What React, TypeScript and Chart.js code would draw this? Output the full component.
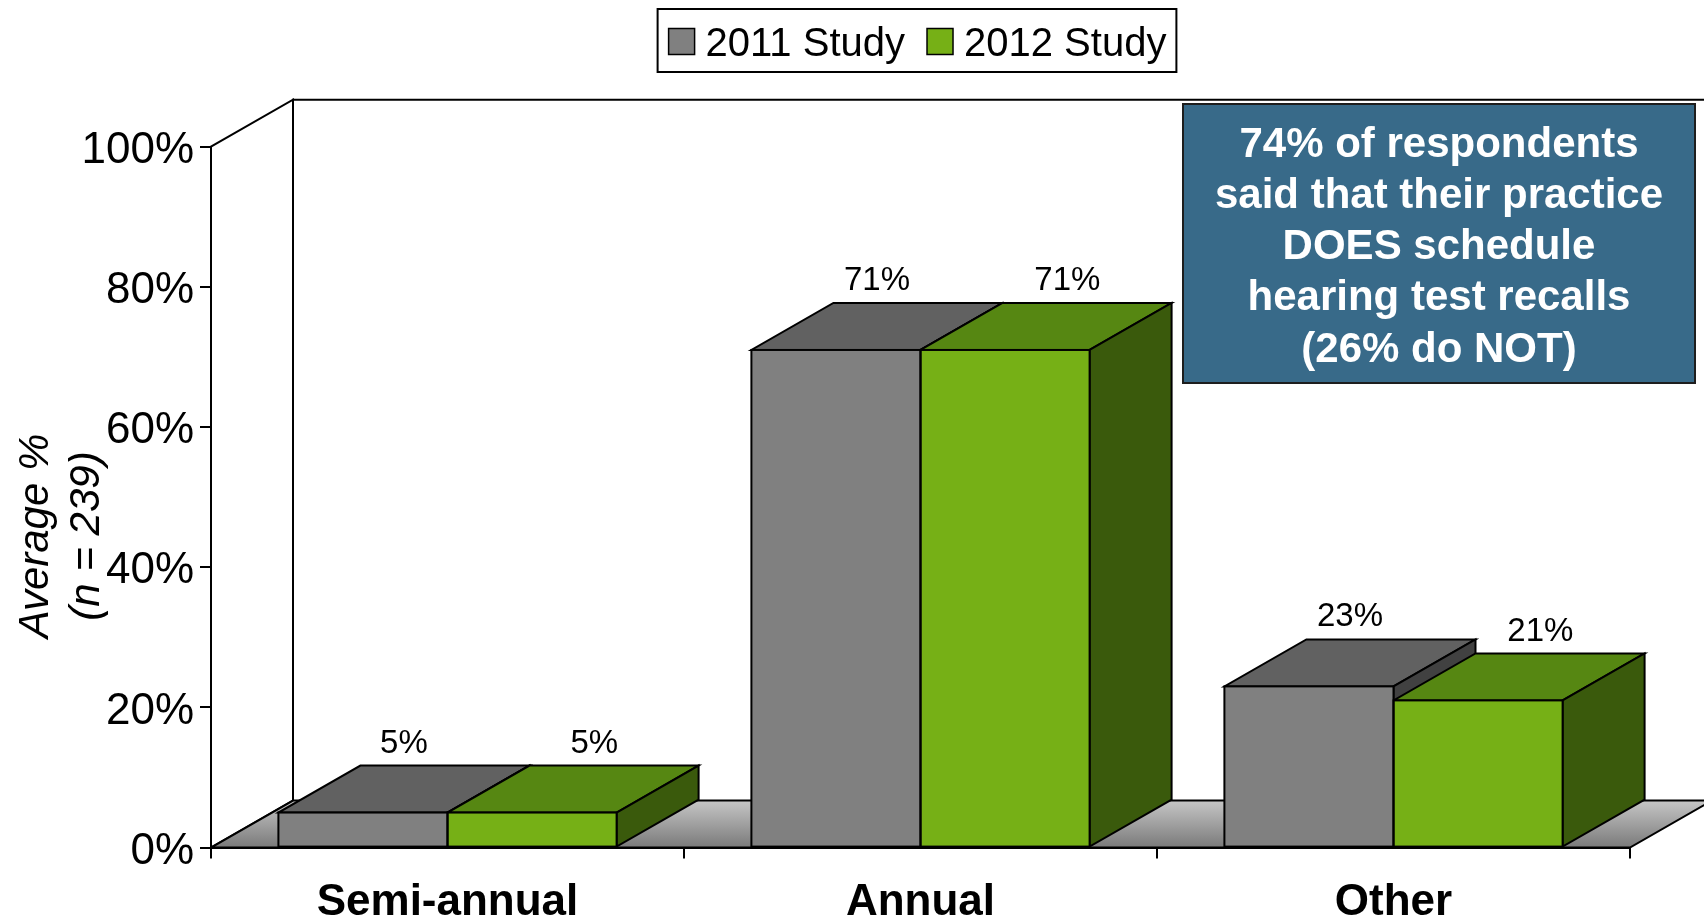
import React, { useEffect, useRef } from 'react';
import { Chart, registerables } from 'chart.js';

Chart.register(...registerables);

// ---- data ----
const categories = ['Semi-annual', 'Annual', 'Other'];
const seriesLabels = ['2011 Study', '2012 Study'];
const values2011 = [5, 71, 23];
const values2012 = [5, 71, 21];
const yTickValues = [0, 20, 40, 60, 80, 100];
const yTitleLines = ['Average %', '(n = 239)'];
const noteLines = [
  '74% of respondents',
  'said that their practice',
  'DOES schedule',
  'hearing test recalls',
  '(26% do NOT)',
];

// ---- styling ----
const FONT = '"Liberation Sans", Arial, Helvetica, sans-serif';
const W = 1704;
const H = 922;
const DX = 82;
const DY = 47;
const frontColors = ['#808080', '#76B016'];
const topColors = ['#616161', '#568712'];
const sideColors = ['#414141', '#3A5A0C'];
const labelShift = [0.5, 0.76];

function poly(ctx: CanvasRenderingContext2D, pts: number[][]) {
  ctx.beginPath();
  ctx.moveTo(pts[0][0], pts[0][1]);
  for (let i = 1; i < pts.length; i++) ctx.lineTo(pts[i][0], pts[i][1]);
  ctx.closePath();
  ctx.fill();
  ctx.stroke();
}

const threeDPlugin = {
  id: 'threeD',
  beforeDatasetsDraw(chart: any) {
    const { ctx, chartArea: ca } = chart;
    const yS = chart.scales.y;
    const y0 = yS.getPixelForValue(0);
    const y100 = yS.getPixelForValue(100);
    const L = ca.left;
    const R = ca.right;
    ctx.save();
    ctx.lineWidth = 2;
    ctx.strokeStyle = '#000';
    ctx.lineJoin = 'miter';
    // back wall
    ctx.fillStyle = '#fff';
    ctx.fillRect(L + DX, y100 - DY, R - L, y0 - y100);
    ctx.beginPath();
    ctx.moveTo(L + DX, y0 - DY);
    ctx.lineTo(L + DX, y100 - DY);
    ctx.lineTo(R + DX + 40, y100 - DY);
    ctx.stroke();
    // left side wall
    poly(ctx, [[L, y0], [L, y100], [L + DX, y100 - DY], [L + DX, y0 - DY]]);
    // floor
    const g = ctx.createLinearGradient(0, y0 - DY, 0, y0);
    g.addColorStop(0, '#c6c6c6');
    g.addColorStop(1, '#7a7a7a');
    ctx.fillStyle = g;
    poly(ctx, [[L, y0], [R, y0], [R + DX, y0 - DY], [L + DX, y0 - DY]]);
    // top and side faces of bars
    const n = chart.data.labels.length;
    for (let i = 0; i < n; i++) {
      for (let d = 0; d < chart.data.datasets.length; d++) {
        const el = chart.getDatasetMeta(d).data[i];
        const { x, y, base, width } = el.getProps(['x', 'y', 'base', 'width'], true);
        const l = x - width / 2;
        const r = x + width / 2;
        ctx.fillStyle = topColors[d];
        poly(ctx, [[l, y], [r, y], [r + DX, y - DY], [l + DX, y - DY]]);
        ctx.fillStyle = sideColors[d];
        poly(ctx, [[r, y], [r + DX, y - DY], [r + DX, base - DY], [r, base]]);
      }
    }
    ctx.restore();
  },
  afterDatasetsDraw(chart: any) {
    const { ctx } = chart;
    ctx.save();
    ctx.lineWidth = 2;
    ctx.strokeStyle = '#000';
    const n = chart.data.labels.length;
    for (let i = 0; i < n; i++) {
      for (let d = 0; d < chart.data.datasets.length; d++) {
        const el = chart.getDatasetMeta(d).data[i];
        const { x, y, base, width } = el.getProps(['x', 'y', 'base', 'width'], true);
        ctx.strokeRect(x - width / 2, y, width, base - y);
      }
    }
    // data labels
    ctx.fillStyle = '#000';
    ctx.font = `33px ${FONT}`;
    ctx.textAlign = 'center';
    ctx.textBaseline = 'middle';
    for (let i = 0; i < n; i++) {
      for (let d = 0; d < chart.data.datasets.length; d++) {
        const el = chart.getDatasetMeta(d).data[i];
        const { x, y } = el.getProps(['x', 'y'], true);
        const v = chart.data.datasets[d].data[i];
        ctx.fillText(`${v}%`, x + DX * labelShift[d], y - DY - 22);
      }
    }
    ctx.restore();
  },
  afterDraw(chart: any) {
    const { ctx } = chart;
    ctx.save();
    // y-axis title
    ctx.fillStyle = '#000';
    ctx.font = `italic 42px ${FONT}`;
    ctx.textAlign = 'center';
    ctx.textBaseline = 'middle';
    ctx.translate(36, 536);
    ctx.rotate(-Math.PI / 2);
    yTitleLines.forEach((t, k) => ctx.fillText(t, 0, k * 51));
    ctx.restore();

    // legend
    ctx.save();
    ctx.font = `40px ${FONT}`;
    ctx.textBaseline = 'middle';
    ctx.textAlign = 'left';
    const ds = chart.data.datasets;
    const sw = 26;
    const padL = 11;
    const gap = 11;
    const between = 22;
    const widths = ds.map((d: any) => ctx.measureText(d.label).width);
    let total = padL;
    widths.forEach((w: number, k: number) => {
      total += sw + gap + w + (k < widths.length - 1 ? between : 0);
    });
    total += 10;
    const cx = 917;
    const lx = cx - total / 2;
    const ly = 9;
    const lh = 63;
    ctx.fillStyle = '#fff';
    ctx.fillRect(lx, ly, total, lh);
    ctx.lineWidth = 2;
    ctx.strokeStyle = '#000';
    ctx.strokeRect(lx, ly, total, lh);
    let px = lx + padL;
    const my = ly + lh / 2 + 1;
    ds.forEach((d: any, k: number) => {
      ctx.fillStyle = d.backgroundColor;
      ctx.fillRect(px, my - sw / 2, sw, sw);
      ctx.lineWidth = 1.5;
      ctx.strokeRect(px, my - sw / 2, sw, sw);
      px += sw + gap;
      ctx.fillStyle = '#000';
      ctx.fillText(d.label, px, my + 3);
      px += widths[k] + between;
    });
    ctx.restore();

    // note box
    ctx.save();
    const bx = 1183;
    const by = 104;
    const bw = 512;
    const bh = 279;
    ctx.fillStyle = '#386A89';
    ctx.fillRect(bx, by, bw, bh);
    ctx.lineWidth = 2;
    ctx.strokeStyle = '#1e1e1e';
    ctx.strokeRect(bx, by, bw, bh);
    ctx.fillStyle = '#fff';
    ctx.font = `bold 42px ${FONT}`;
    ctx.textAlign = 'center';
    ctx.textBaseline = 'middle';
    noteLines.forEach((t, k) => ctx.fillText(t, bx + bw / 2, 145 + k * 51.3));
    ctx.restore();
  },
};

export default function App() {
  const ref = useRef<HTMLCanvasElement | null>(null);
  useEffect(() => {
    if (!ref.current) return;
    const chart = new Chart(ref.current, {
      type: 'bar',
      data: {
        labels: categories,
        datasets: [
          {
            label: seriesLabels[0],
            data: values2011,
            backgroundColor: frontColors[0],
            borderWidth: 0,
            categoryPercentage: 0.715,
            barPercentage: 1,
          },
          {
            label: seriesLabels[1],
            data: values2012,
            backgroundColor: frontColors[1],
            borderWidth: 0,
            categoryPercentage: 0.715,
            barPercentage: 1,
          },
        ],
      },
      options: {
        responsive: false,
        animation: false,
        devicePixelRatio: 1,
        layout: { padding: { left: 0, right: 74, top: 146.7, bottom: 0 } },
        plugins: {
          legend: { display: false },
          tooltip: { enabled: false },
        },
        scales: {
          x: {
            grid: {
              display: true,
              drawOnChartArea: false,
              drawTicks: true,
              tickLength: 11,
              color: '#000',
              lineWidth: 2,
              offset: true,
            },
            border: { display: true, color: '#000', width: 2 },
            ticks: {
              color: '#000',
              font: { family: FONT, size: 44, weight: 'bold', lineHeight: 1.2 },
              padding: 18,
              maxRotation: 0,
              autoSkip: false,
            },
            afterFit: (s: any) => {
              s.height = H - 847.6;
            },
          },
          y: {
            min: 0,
            max: 100,
            afterBuildTicks: (s: any) => {
              s.ticks = yTickValues.map((v) => ({ value: v }));
            },
            ticks: {
              callback: (v: any) => `${v}%`,
              color: '#000',
              font: { family: FONT, size: 44 },
              padding: 6,
              labelOffset: 4,
            },
            grid: {
              drawOnChartArea: false,
              tickLength: 11,
              color: '#000',
              lineWidth: 2,
            },
            border: { display: true, color: '#000', width: 2 },
            afterFit: (s: any) => {
              s.width = 211;
            },
          },
        },
      } as any,
      plugins: [threeDPlugin],
    });
    return () => chart.destroy();
  }, []);
  return (
    <div style={{ position: 'fixed', left: 0, top: 0, width: W, height: H, background: '#fff' }}>
      <canvas ref={ref} width={W} height={H} style={{ display: 'block' }} />
    </div>
  );
}
